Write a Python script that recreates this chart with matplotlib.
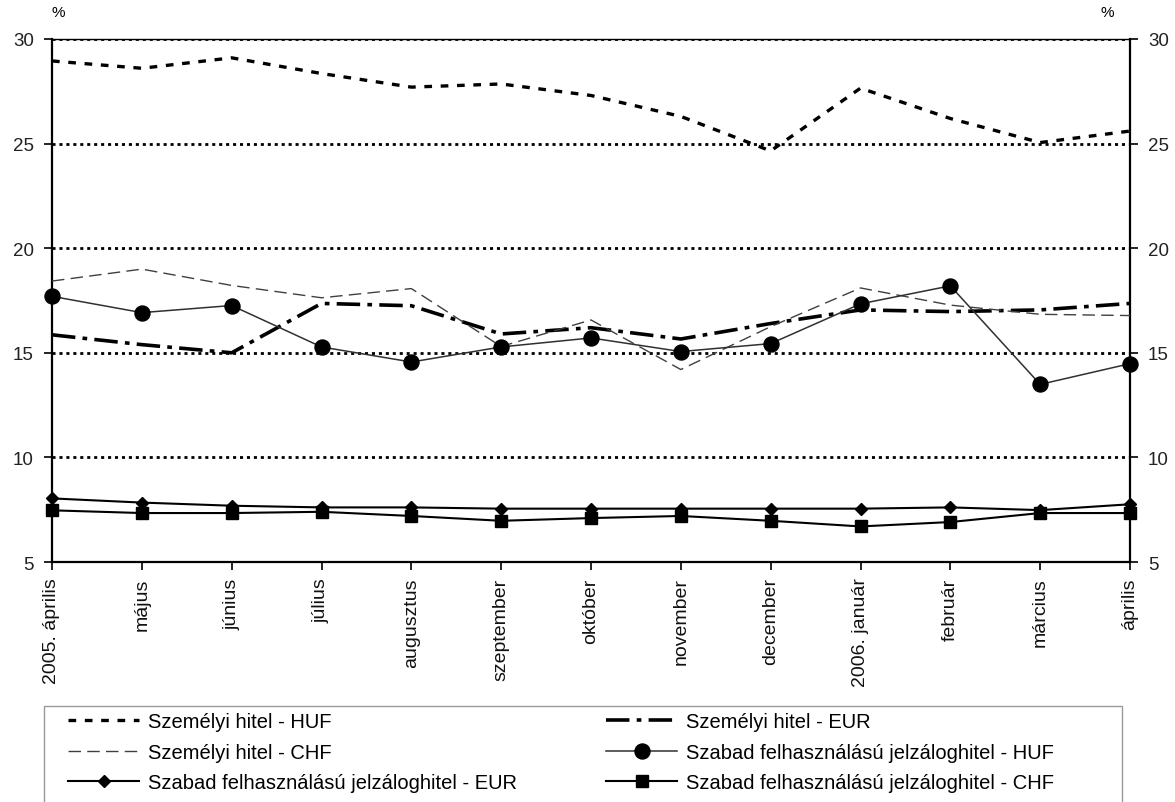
import numpy as np
import matplotlib.pyplot as plt
from matplotlib.patches import Rectangle

plt.rcParams['font.family'] = ['Liberation Sans', 'DejaVu Sans']

months = ["2005. április", "május", "június", "július", "augusztus", "szeptember",
          "október", "november", "december", "2006. január", "február", "március",
          "április"]

szem_huf = [28.95, 28.6, 29.1, 28.35, 27.7, 27.85, 27.3, 26.3, 24.65, 27.65, 26.2, 25.05, 25.6]
szem_eur = [15.86, 15.39, 15.0, 17.36, 17.25, 15.9, 16.2, 15.66, 16.4, 17.05, 16.97, 17.05, 17.36]
szem_chf = [18.43, 19.0, 18.22, 17.63, 18.07, 15.3, 16.57, 14.2, 16.25, 18.1, 17.28, 16.84, 16.78]
jelz_huf = [17.7, 16.92, 17.26, 15.28, 14.56, 15.28, 15.71, 15.06, 15.44, 17.34, 18.2, 13.49, 14.48]
jelz_eur = [8.04, 7.84, 7.69, 7.61, 7.61, 7.55, 7.55, 7.55, 7.55, 7.55, 7.61, 7.48, 7.76]
jelz_chf = [7.47, 7.34, 7.34, 7.40, 7.2, 6.97, 7.1, 7.2, 6.97, 6.7, 6.91, 7.34, 7.34]

x = np.arange(len(months))
W, H = 1175, 803

fig = plt.figure(figsize=(W / 100, H / 100), dpi=100)
ax = fig.add_axes([52 / W, 1 - 563 / H, 1078 / W, 523 / H])

# horizontal dotted gridlines
for yv in [10, 15, 20, 25, 30]:
    ax.axhline(yv, color='black', lw=2.0, linestyle=(0, (1.1, 1.4)), zorder=1)

l_huf, = ax.plot(x, szem_huf, color='black', lw=2.4, dashes=(2.3, 2.6),
                 label='Személyi hitel - HUF', zorder=3)
l_eur, = ax.plot(x, szem_eur, color='black', lw=2.6, dashes=(6.5, 2.0, 1.3, 2.0),
                 label='Személyi hitel - EUR', zorder=3)
l_chf, = ax.plot(x, szem_chf, color='#404040', lw=1.0, dashes=(9, 4.5),
                 label='Személyi hitel - CHF', zorder=3)
m_huf, = ax.plot(x, jelz_huf, color='#303030', lw=1.1, marker='o', ms=10.8,
                 mfc='black', mec='black', label='Szabad felhasználású jelzáloghitel - HUF',
                 zorder=4, clip_on=False)
m_eur, = ax.plot(x, jelz_eur, color='black', lw=1.5, marker='D', ms=6.5,
                 mfc='black', mec='black', label='Szabad felhasználású jelzáloghitel - EUR',
                 zorder=4, clip_on=False)
m_chf, = ax.plot(x, jelz_chf, color='black', lw=1.5, marker='s', ms=8,
                 mfc='black', mec='black', label='Szabad felhasználású jelzáloghitel - CHF',
                 zorder=4, clip_on=False)

ax.set_xlim(0, len(months) - 1)
ax.set_ylim(5, 30)
ax.set_yticks([5, 10, 15, 20, 25, 30])
ax.set_xticks(x)
ax.set_xticklabels(months, rotation=90, fontsize=14, color='#111111')
ax.tick_params(axis='y', labelsize=13.5, length=6, width=1.2, direction='out', pad=7,
               labelcolor='#222222')
ax.tick_params(axis='x', length=6, width=1.2, direction='out', pad=5)
for side in ['left', 'bottom', 'right']:
    ax.spines[side].set_linewidth(1.6)
ax.spines['top'].set_linewidth(1.0)

ax2 = ax.twinx()
ax2.set_ylim(5, 30)
ax2.set_yticks([5, 10, 15, 20, 25, 30])
ax2.tick_params(axis='y', labelsize=13.5, length=6, width=1.2, direction='out', pad=7,
                labelcolor='#222222')
for side in ax2.spines:
    ax2.spines[side].set_visible(False)

fig.text(58 / W, 1 - 6 / H, '%', fontsize=11, ha='center', va='top')
fig.text(1107 / W, 1 - 6 / H, '%', fontsize=11, ha='center', va='top')

# legend: frame plus two columns placed side by side
fig.patches.append(Rectangle((44 / W, -0.02), (1122 - 44) / W, 0.02 + 1 - 707 / H,
                             transform=fig.transFigure, fill=False,
                             edgecolor='#999999', lw=1.0))
leg_kw = dict(loc='upper left', fontsize=14.5, handlelength=3.55, handletextpad=0.4,
              labelspacing=0.58, borderpad=0, borderaxespad=0, frameon=False)
col1 = [l_huf, l_chf, m_eur]
col2 = [l_eur, m_huf, m_chf]
leg1 = fig.legend(handles=col1, labels=[h.get_label() for h in col1],
                  bbox_to_anchor=(68 / W, 1 - 713 / H), **leg_kw)
leg2 = fig.legend(handles=col2, labels=[h.get_label() for h in col2],
                  bbox_to_anchor=(606 / W, 1 - 713 / H), **leg_kw)

fig.savefig('out.png', dpi=100)
